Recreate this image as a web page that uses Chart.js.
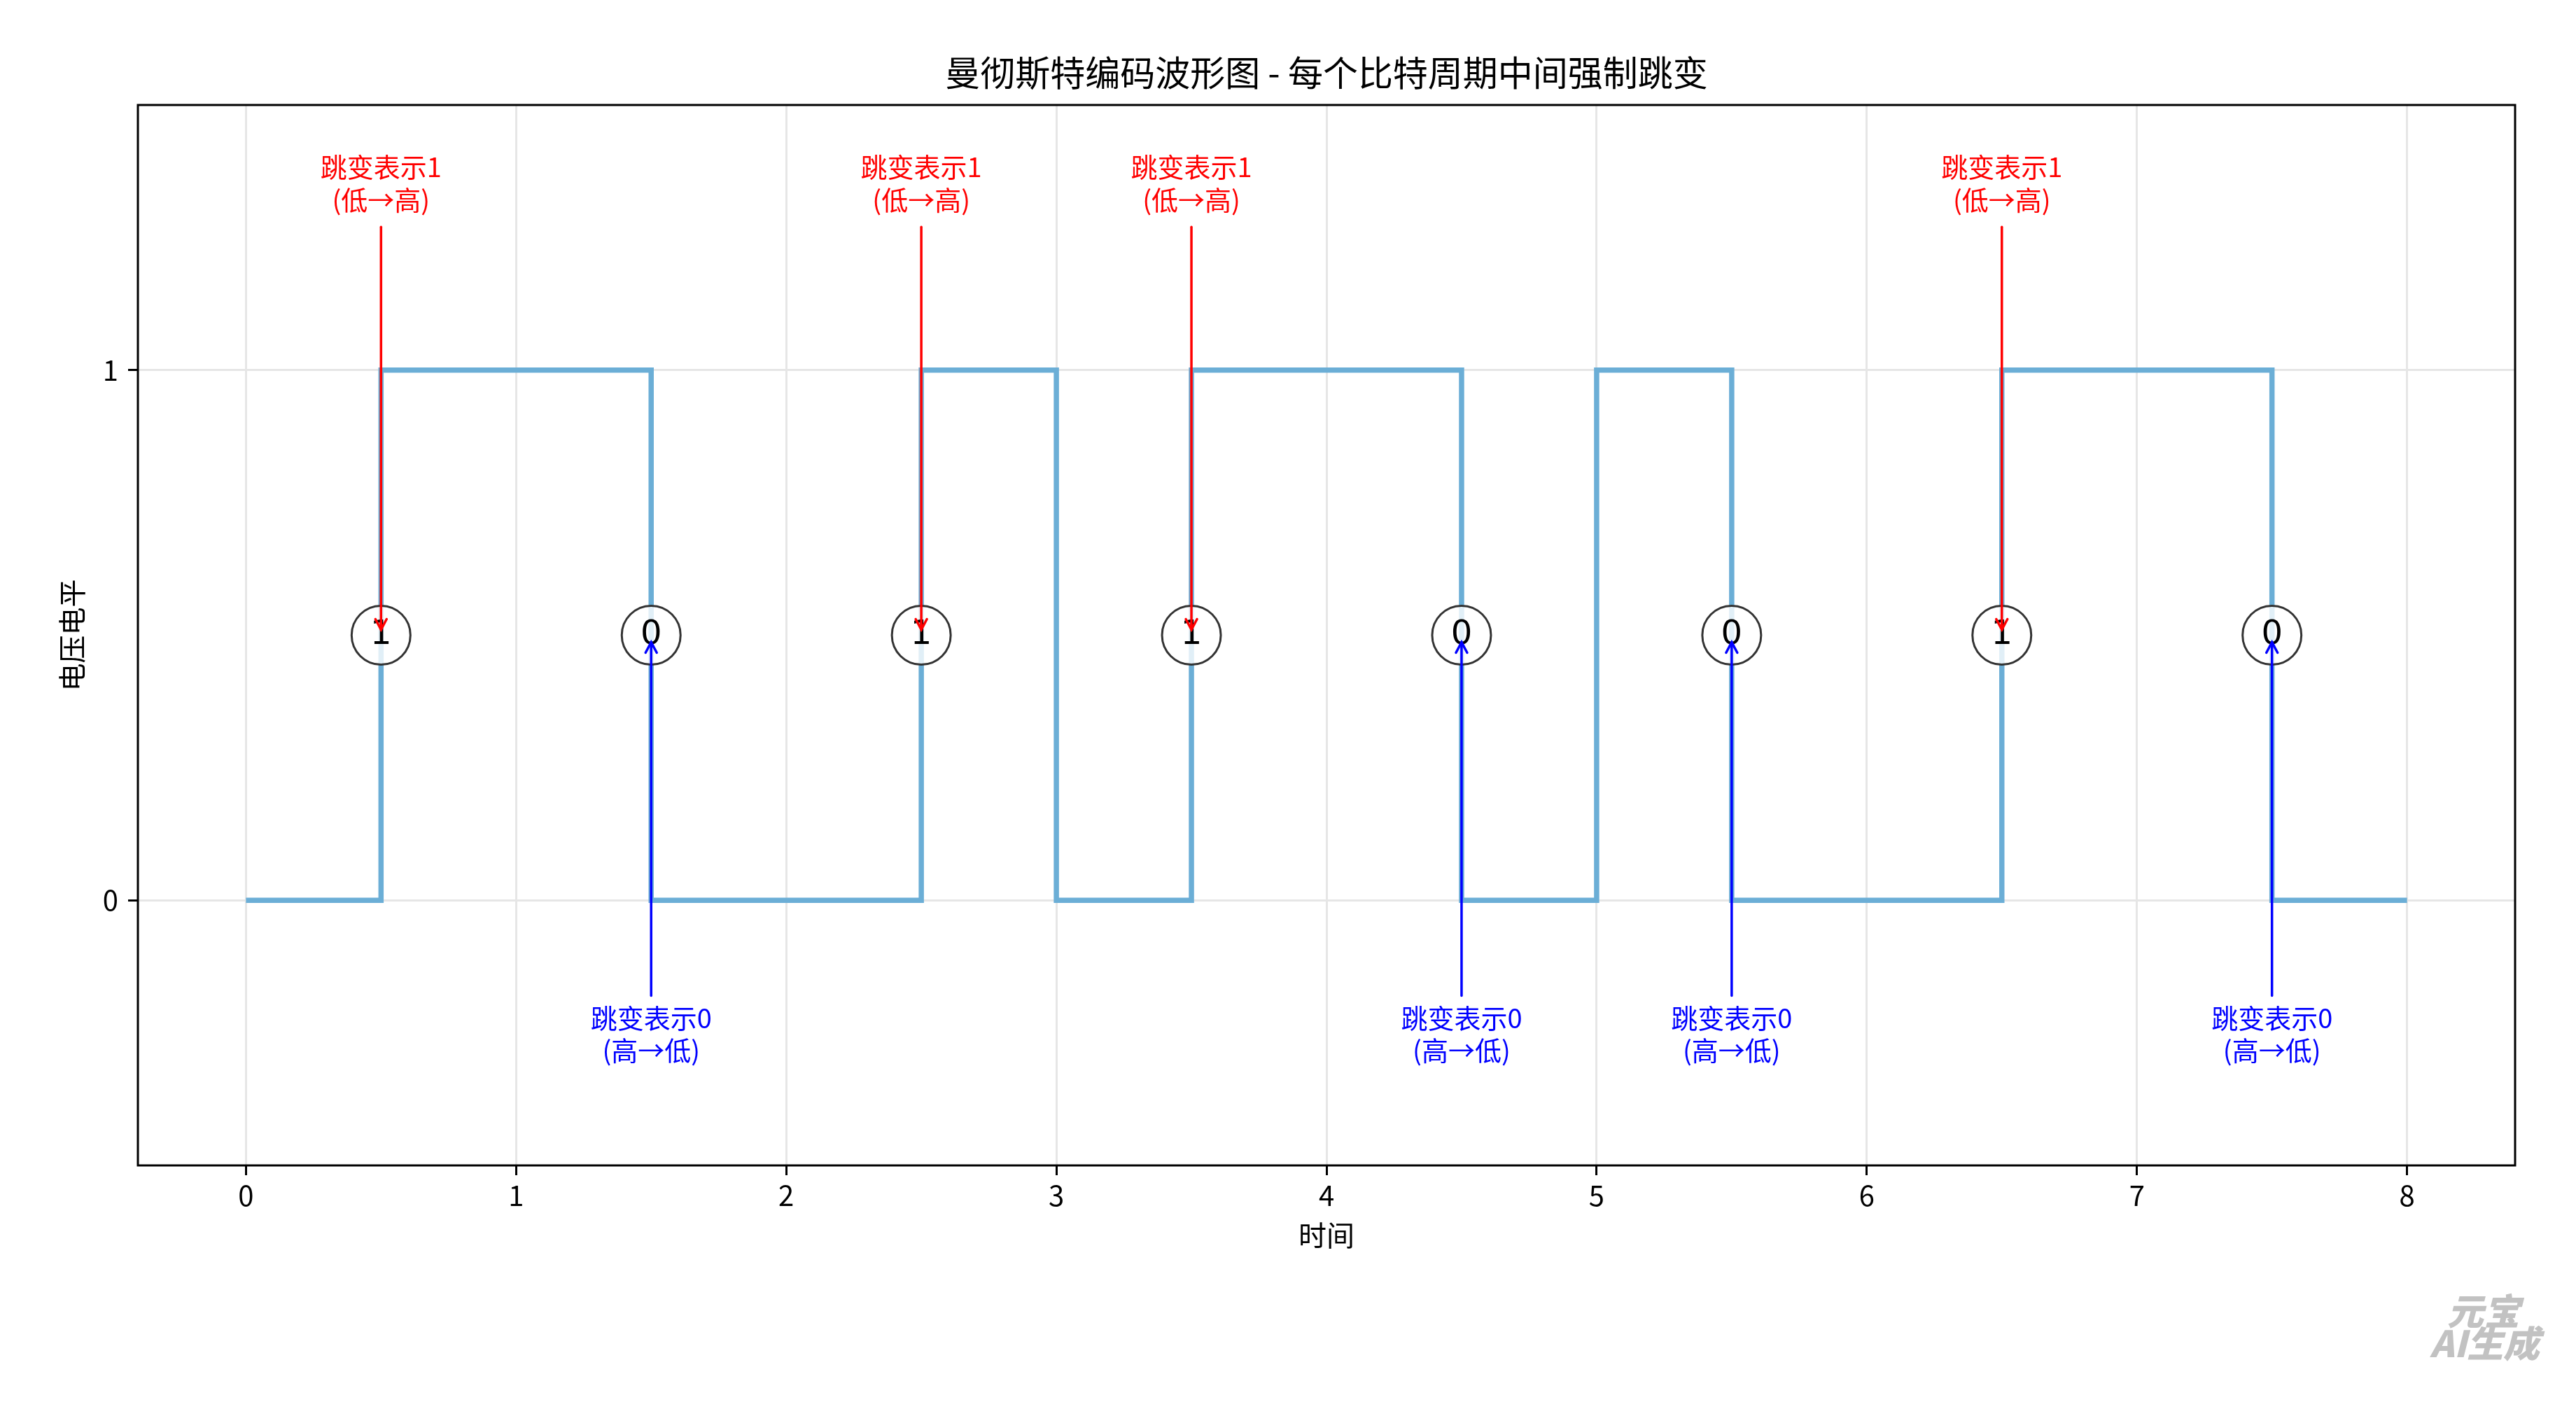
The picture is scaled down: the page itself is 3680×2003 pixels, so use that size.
<!DOCTYPE html>
<html>
<head>
<meta charset="utf-8">
<title>曼彻斯特编码波形图</title>
<script src="https://cdn.jsdelivr.net/npm/chart.js@4.4.1/dist/chart.umd.min.js"></script>
<style>
  html, body { margin: 0; padding: 0; background: #fff; }
  canvas { display: block; }
</style>
</head>
<body>
<canvas id="chart" width="3680" height="2003"></canvas>
<script>
// data
const bits = [1, 0, 1, 1, 0, 0, 1, 0];
const bitCenters = [0.5, 1.5, 2.5, 3.5, 4.5, 5.5, 6.5, 7.5];
const times = [0, 0.5, 1, 1.5, 2, 2.5, 3, 3.5, 4, 4.5, 5, 5.5, 6, 6.5, 7, 7.5, 8];
const levels = [0, 1, 1, 0, 0, 1, 0, 1, 1, 0, 1, 0, 0, 1, 1, 0, 0];
const xTicks = [0, 1, 2, 3, 4, 5, 6, 7, 8];
const yTicks = [0, 1];

const titleText = '曼彻斯特编码波形图 - 每个比特周期中间强制跳变';
const xTitle = '时间';
const yTitle = '电压电平';
const upLabel = ['跳变表示1', '(低→高)'];
const downLabel = ['跳变表示0', '(高→低)'];

const cjk = '"Noto Sans CJK SC", "Noto Sans", sans-serif';

function drawArrow(ctx, x, y0, y1, color) {
    const dir = y1 > y0 ? 1 : -1;
    ctx.strokeStyle = color;
    ctx.lineWidth = 3.5;
    ctx.lineCap = 'round';
    ctx.beginPath();
    ctx.moveTo(x, y0);
    ctx.lineTo(x, y1);
    ctx.stroke();
    ctx.beginPath();
    ctx.moveTo(x - 8, y1 - dir * 15);
    ctx.lineTo(x, y1);
    ctx.lineTo(x + 8, y1 - dir * 15);
    ctx.stroke();
}

const extras = {
    id: 'extras',
    afterDatasetsDraw(chart) {
        const ctx = chart.ctx;
        const xs = chart.scales.x, ys = chart.scales.y;
        ctx.save();
        bitCenters.forEach((t, i) => {
            const px = xs.getPixelForValue(t);
            const py = ys.getPixelForValue(0.5);
            ctx.fillStyle = '#000';
            ctx.font = '48px "DejaVu Sans"';
            ctx.textAlign = 'center';
            ctx.textBaseline = 'middle';
            ctx.fillText(String(bits[i]), px, py);

            ctx.font = '38px ' + cjk;
            if (bits[i] === 1) {
                const bottom = ys.getPixelForValue(1.3);
                ctx.fillStyle = '#ff0000';
                ctx.fillText(upLabel[0], px, bottom - 63);
                ctx.fillText(upLabel[1], px, bottom - 16);
                drawArrow(ctx, px, ys.getPixelForValue(1.27), py - 8, '#ff0000');
            } else {
                const top = ys.getPixelForValue(-0.2);
                ctx.fillStyle = '#0000ff';
                ctx.fillText(downLabel[0], px, top + 17);
                ctx.fillText(downLabel[1], px, top + 63);
                drawArrow(ctx, px, ys.getPixelForValue(-0.18), py + 10, '#0000ff');
            }
        });
        ctx.restore();
    },
    afterDraw(chart) {
        const ctx = chart.ctx;
        const a = chart.chartArea;
        ctx.save();
        ctx.strokeStyle = '#000';
        ctx.lineWidth = 3;
        ctx.strokeRect(a.left, a.top, a.right - a.left, a.bottom - a.top);

        ctx.fillStyle = '#000';
        ctx.textAlign = 'center';
        ctx.textBaseline = 'middle';
        ctx.font = '50px ' + cjk;
        ctx.fillText(titleText, (a.left + a.right) / 2, 104);

        ctx.font = '40px ' + cjk;
        ctx.fillText(xTitle, (a.left + a.right) / 2, 1765);
        ctx.translate(103, (a.top + a.bottom) / 2);
        ctx.rotate(-Math.PI / 2);
        ctx.fillText(yTitle, 0, 0);
        ctx.restore();

        // watermark
        ctx.save();
        ctx.fillStyle = '#c2c2c2';
        ctx.textAlign = 'right';
        ctx.textBaseline = 'middle';
        ctx.font = 'italic 900 52px ' + cjk;
        ctx.fillText('元宝', 3600, 1873);
        ctx.fillText('AI生成', 3628, 1919);
        ctx.restore();
    }
};

const gridOpts = {
    color: '#e6e6e6',
    lineWidth: 3,
    tickLength: 14,
    tickColor: '#000',
    tickWidth: 3
};

new Chart(document.getElementById('chart'), {
    data: {
        datasets: [
            {
                type: 'scatter',
                data: bitCenters.map(t => ({ x: t, y: 0.5 })),
                pointRadius: 42,
                pointHoverRadius: 42,
                pointBackgroundColor: 'rgba(255,255,255,0.8)',
                pointBorderColor: '#333',
                pointBorderWidth: 3
            },
            {
                type: 'line',
                data: times.map((t, i) => ({ x: t, y: levels[i] })),
                stepped: true,
                borderColor: '#6baed6',
                borderWidth: 7.5,
                pointRadius: 0,
                fill: false
            }
        ]
    },
    options: {
        responsive: false,
        animation: false,
        devicePixelRatio: 1,
        layout: { padding: { top: 150, right: 87, left: 0, bottom: 0 } },
        plugins: {
            legend: { display: false },
            title: { display: false },
            tooltip: { enabled: false }
        },
        scales: {
            x: {
                type: 'linear',
                min: -0.4,
                max: 8.4,
                afterBuildTicks: s => { s.ticks = xTicks.map(v => ({ value: v })); },
                afterFit: s => { s.height = 338; },
                grid: gridOpts,
                border: { display: false },
                ticks: {
                    color: '#000',
                    font: { family: cjk, size: 40 },
                    padding: 5,
                    maxRotation: 0,
                    autoSkip: false
                }
            },
            y: {
                type: 'linear',
                min: -0.5,
                max: 1.5,
                afterBuildTicks: s => { s.ticks = yTicks.map(v => ({ value: v })); },
                afterFit: s => { s.width = 197; },
                grid: gridOpts,
                border: { display: false },
                ticks: {
                    color: '#000',
                    font: { family: cjk, size: 40 },
                    padding: 14
                }
            }
        }
    },
    plugins: [extras]
});
</script>
</body>
</html>
